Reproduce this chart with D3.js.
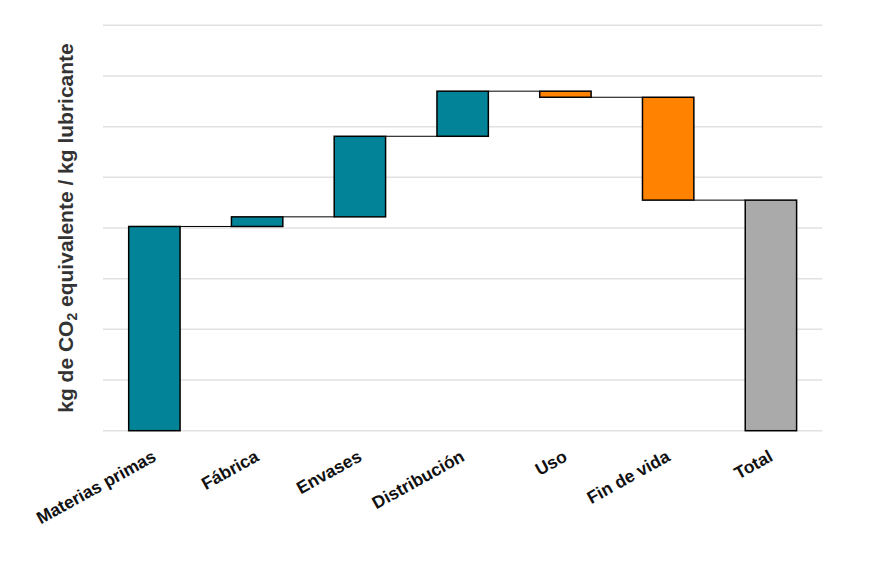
<!DOCTYPE html>
<html>
<head>
<meta charset="utf-8">
<script src="https://cdn.jsdelivr.net/npm/d3@7"></script>
<style>
  body { margin: 0; background: #fff; }
  svg text { font-family: "Liberation Sans", Arial, sans-serif; font-weight: bold; }
</style>
</head>
<body>
<div id="f1"></div>
<script>
const W = 884, H = 561;

// data (units = one grid step)
const categories = ["Materias primas", "Fábrica", "Envases", "Distribución", "Uso", "Fin de vida", "Total"];
const deltas = [4.03, 0.19, 1.59, 0.89, -0.12, -2.03];
const gridTicks = [0, 1, 2, 3, 4, 5, 6, 7, 8];

const COLORS = { up: "#028397", down: "#FF8300", total: "#AAAAAA" };

// build waterfall steps
let steps = [];
let run = 0;
deltas.forEach(function(d, i){
    steps.push({cat: categories[i], start: run, end: run + d, kind: d >= 0 ? "up" : "down"});
    run += d;
});
steps.push({cat: categories[6], start: 0, end: run, kind: "total"});

const x = d3.scaleBand()
    .domain(categories)
    .range([103, 822.3])
    .paddingInner(0.5)
    .paddingOuter(0.25);

const y = d3.scaleLinear().domain([0, 8]).range([430.7, 25.3]);

const svg = d3.select("#f1").append("svg")
    .attr("width", W)
    .attr("height", H);

// gridlines
svg.append("g").selectAll("line")
    .data(gridTicks)
    .enter().append("line")
    .attr("x1", 103).attr("x2", 822.3)
    .attr("y1", d => y(d)).attr("y2", d => y(d))
    .attr("stroke", "#e2e2e2")
    .attr("stroke-width", 1.5);

// connectors
svg.append("g").selectAll("line")
    .data(steps.slice(0, -1))
    .enter().append("line")
    .attr("x1", d => x(d.cat) + x.bandwidth())
    .attr("x2", (d, i) => x(steps[i + 1].cat))
    .attr("y1", d => y(d.end)).attr("y2", d => y(d.end))
    .attr("stroke", "#000")
    .attr("stroke-width", 1);

// bars
svg.append("g").selectAll("rect")
    .data(steps)
    .enter().append("rect")
    .attr("x", d => x(d.cat))
    .attr("width", x.bandwidth())
    .attr("y", d => y(Math.max(d.start, d.end)))
    .attr("height", d => Math.abs(y(d.start) - y(d.end)))
    .attr("fill", d => COLORS[d.kind])
    .attr("stroke", "#000")
    .attr("stroke-width", 1.5);

// category labels
svg.append("g").selectAll("text")
    .data(categories)
    .enter().append("text")
    .attr("transform", d => "translate(" + (x(d) + x.bandwidth() / 2 + 3) + ",460) rotate(-29)")
    .attr("text-anchor", "end")
    .attr("font-size", 17.5)
    .attr("fill", "#111")
    .text(d => d);

// y axis title
const yt = svg.append("text")
    .attr("transform", "translate(73," + ((y(0) + y(8)) / 2) + ") rotate(-90)")
    .attr("text-anchor", "middle")
    .attr("font-size", 21)
    .attr("fill", "#333");
yt.append("tspan").text("kg de CO");
yt.append("tspan").attr("font-size", 14).attr("dy", 4).text("2");
yt.append("tspan").attr("dy", -4).text(" equivalente / kg lubricante");
</script>
</body>
</html>
